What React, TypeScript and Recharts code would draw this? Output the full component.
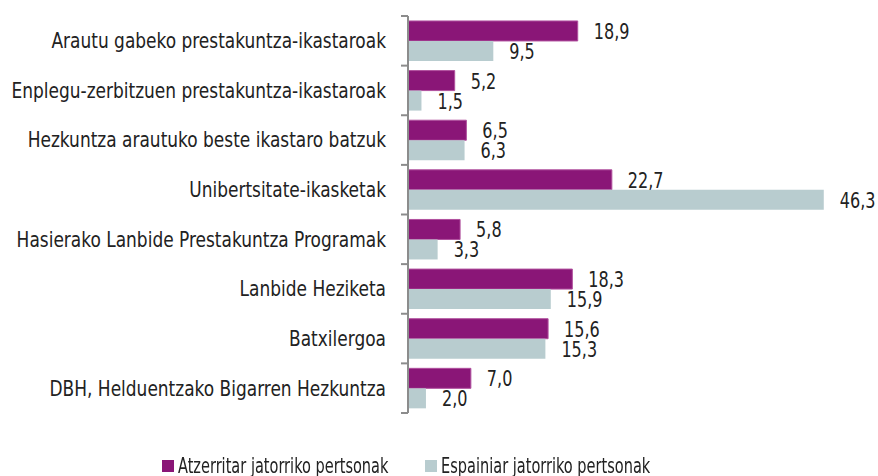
import React from "react";
import {
  BarChart,
  Bar,
  XAxis,
  YAxis,
  LabelList,
  Legend,
} from "recharts";

// Categorías (de arriba abajo)
const categories = [
  "Arautu gabeko prestakuntza-ikastaroak",
  "Enplegu-zerbitzuen prestakuntza-ikastaroak",
  "Hezkuntza arautuko beste ikastaro batzuk",
  "Unibertsitate-ikasketak",
  "Hasierako Lanbide Prestakuntza Programak",
  "Lanbide Heziketa",
  "Batxilergoa",
  "DBH, Helduentzako Bigarren Hezkuntza",
];
const foreignValues = [18.9, 5.2, 6.5, 22.7, 5.8, 18.3, 15.6, 7.0];
const spanishValues = [9.5, 1.5, 6.3, 46.3, 3.3, 15.9, 15.3, 2.0];
const seriesNames = [
  "Atzerritar jatorriko pertsonak",
  "Espainiar jatorriko pertsonak",
];

const PURPLE = "#8a1677";
const GREY = "#b8cccf";
const FONT = "'DejaVu Sans Condensed', 'DejaVu Sans', sans-serif";
const AXIS = "#8c8c8c";

const data = categories.map((name, i) => ({
  name,
  foreign: foreignValues[i],
  spanish: spanishValues[i],
}));

const fmt = (v: any) => Number(v).toFixed(1).replace(".", ",");

/** Etiqueta del eje con marcas en los límites de cada categoría */
const CategoryTick = (props: any) => {
  const { x, y, payload, index, visibleTicksCount } = props;
  const half = payload?.offset ?? 24.8;
  const axisX = x + 8;
  return (
    <g>
      <line x1={axisX - 7} x2={axisX} y1={y - half} y2={y - half} stroke={AXIS} strokeWidth={2} />
      {index === visibleTicksCount - 1 && (
        <line x1={axisX - 7} x2={axisX} y1={y + half} y2={y + half} stroke={AXIS} strokeWidth={2} />
      )}
      <text
        transform={`translate(${axisX - 22},${y}) scale(0.9,1)`}
        textAnchor="end"
        dominantBaseline="central"
        fontFamily={FONT}
        fontSize={21}
        fill="#222"
      >
        {payload.value}
      </text>
    </g>
  );
};

/** Valor a la derecha de la barra */
const ValueLabel = (props: any) => {
  const { x, y, width, height, value } = props;
  return (
    <text
      transform={`translate(${Number(x) + Number(width) + 16},${Number(y) + Number(height) / 2 + 1}) scale(0.85,1)`}
      textAnchor="start"
      dominantBaseline="central"
      fontFamily={FONT}
      fontSize={21}
      fill="#222"
    >
      {fmt(value)}
    </text>
  );
};

const renderLegend = () => (
  <div style={{ position: "relative", height: 24, fontFamily: FONT, fontSize: 21, color: "#222" }}>
    {seriesNames.map((s, i) => (
      <div
        key={s}
        style={{
          position: "absolute",
          left: i === 0 ? 162 : 425,
          top: 0,
          display: "flex",
          alignItems: "center",
          height: 24,
          whiteSpace: "nowrap",
        }}
      >
        <span
          style={{
            width: 12,
            height: 12,
            background: i === 0 ? PURPLE : GREY,
            display: "inline-block",
            marginRight: 4,
            flex: "none",
          }}
        />
        <span style={{ display: "inline-block", transform: "scaleX(0.77)", transformOrigin: "left center" }}>
          {s}
        </span>
      </div>
    ))}
  </div>
);

const App: React.FC = (): JSX.Element => {
  return (
    <div style={{ position: "fixed", left: 0, top: 0, background: "#fff" }}>
      <BarChart
        width={878}
        height={476}
        data={data}
        layout="vertical"
        margin={{ top: 16, right: 21, left: 0, bottom: 39 }}
        barCategoryGap="10%"
        barGap={0}
      >
        <XAxis type="number" domain={[0, 50]} hide />
        <YAxis
          type="category"
          dataKey="name"
          width={408}
          axisLine={{ stroke: AXIS, strokeWidth: 2 }}
          tickLine={false}
          tick={<CategoryTick />}
          interval={0}
        />
        <Legend
          content={renderLegend}
          wrapperStyle={{ top: 454, left: 0, width: 878 }}
        />
        <Bar
          dataKey="foreign"
          name={seriesNames[0]}
          fill={PURPLE}
          stroke="#b0509e"
          strokeWidth={1}
          isAnimationActive={false}
        >
          <LabelList dataKey="foreign" content={<ValueLabel />} />
        </Bar>
        <Bar
          dataKey="spanish"
          name={seriesNames[1]}
          fill={GREY}
          isAnimationActive={false}
        >
          <LabelList dataKey="spanish" content={<ValueLabel />} />
        </Bar>
      </BarChart>
    </div>
  );
};

export default App;
